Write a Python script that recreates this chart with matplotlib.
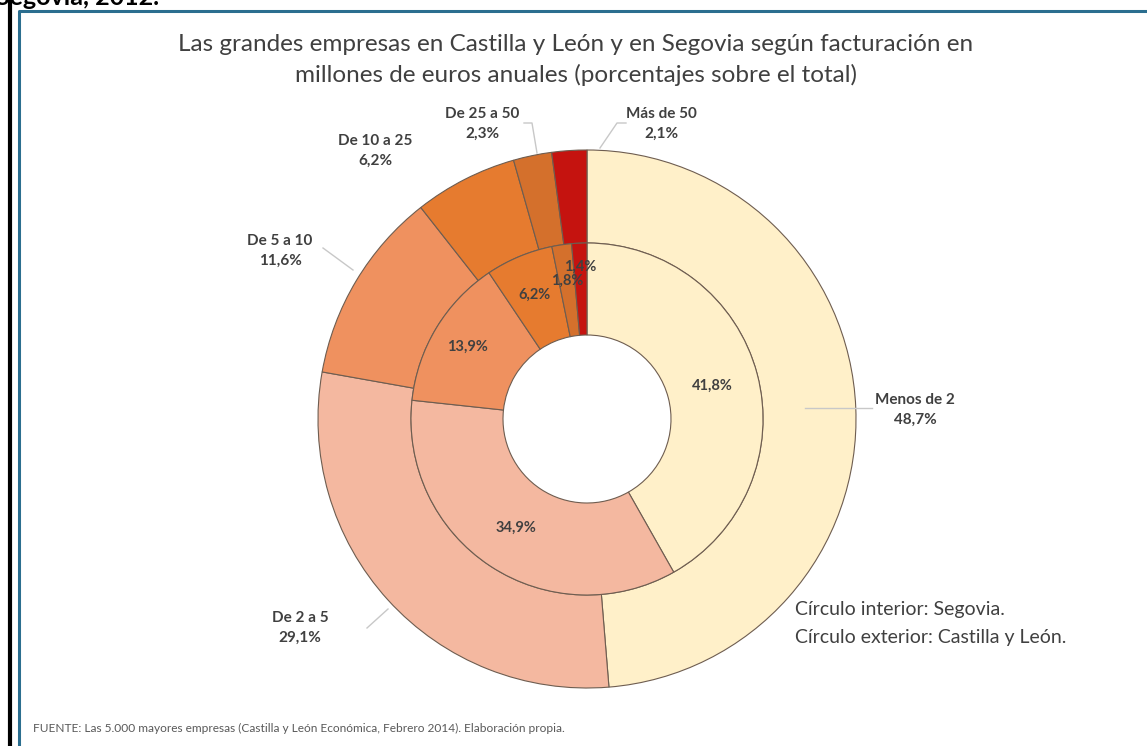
import matplotlib
matplotlib.use('Agg')
import matplotlib.pyplot as plt
import numpy as np

categories = ['Menos de 2', 'De 2 a 5', 'De 5 a 10', 'De 10 a 25', 'De 25 a 50', 'Más de 50']
castilla_leon = [48.7, 29.1, 11.6, 6.2, 2.3, 2.1]
segovia = [41.8, 34.9, 13.9, 6.2, 1.8, 1.4]
colors = ['#FFF0C9', '#F4B8A0', '#EF915F', '#E67B2F', '#D4702C', '#C5130F']

title = ('Las grandes empresas en Castilla y León y en Segovia según facturación en\n'
         'millones de euros anuales (porcentajes sobre el total)')
note_lines = ['Círculo interior: Segovia.', 'Círculo exterior: Castilla y León.']
source = 'FUENTE: Las 5.000 mayores empresas (Castilla y León Económica, Febrero 2014). Elaboración propia.'

W, H = 1147, 746
plt.rcParams['font.family'] = ['Lato', 'DejaVu Sans']
fig = plt.figure(figsize=(W / 100, H / 100), dpi=100)
ax = fig.add_axes([0, 0, 1, 1])


def Y(y):
    return H - y


def fmt(v):
    return f"{v:.1f}".replace('.', ',') + '%'


cx, cy = 587, Y(419)
R_out, R_mid, R_in = 269, 176, 84
edge = dict(edgecolor='#6e5d50', linewidth=0.8)

wo, _ = ax.pie(castilla_leon, radius=R_out, center=(cx, cy), startangle=90,
               counterclock=False, colors=colors,
               wedgeprops=dict(width=R_out - R_mid, **edge), frame=True)
wi, _ = ax.pie(segovia, radius=R_mid, center=(cx, cy), startangle=90,
               counterclock=False, colors=colors,
               wedgeprops=dict(width=R_mid - R_in, **edge), frame=True)

ax.set_xlim(0, W)
ax.set_ylim(0, H)
ax.axis('off')

txtc = '#404040'
# inner labels
r_lab = [130, 130, 140, 135, 140, 152]
for w, v, r in zip(wi, segovia, r_lab):
    ang = np.deg2rad((w.theta1 + w.theta2) / 2)
    ax.text(cx + r * np.cos(ang), cy + r * np.sin(ang), fmt(v), ha='center', va='center',
            fontsize=10.5, fontweight='bold', color=txtc)

# outer labels (layout positions)
out_pos = [(915, 410), (300, 628), (280, 251), (375, 151), (482, 124), (661, 124)]
for (x, y), c, v in zip(out_pos, categories, castilla_leon):
    ax.text(x, Y(y), c + '\n' + fmt(v), ha='center', va='center', fontsize=11,
            fontweight='bold', color=txtc, linespacing=1.55)

lc = '#c8c8c8'
leaders = [
    [(805, 408), (872, 408)],
    [(367, 628), (388, 609)],
    [(323, 248), (353, 270)],
    [(524, 123), (532, 123), (537, 153)],
    [(626, 123), (617, 123), (600, 148)],
]
for pts in leaders:
    xs = [p[0] for p in pts]
    ys = [Y(p[1]) for p in pts]
    ax.plot(xs, ys, color=lc, lw=1)

ax.text(576, Y(60), title, ha='center', va='center', fontsize=17.5, color=txtc,
        linespacing=1.45)

for i, line in enumerate(note_lines):
    ax.text(795, Y(610 + 27 * i), line, ha='left', va='center', fontsize=14, color=txtc)

ax.text(33, Y(728), source, ha='left', va='center', fontsize=8.6, color='#595959')

# frame lines
ax.plot([10, 10], [0, H], color='black', lw=3, solid_capstyle='butt')
ax.plot([19, 19, W + 5], [-5, Y(10.5), Y(10.5)], color='#2B6E8F', lw=2.2)
ax.text(-4, Y(5), 'Segovia, 2012.', ha='left', va='baseline', fontsize=18,
        fontweight='bold', color='black')

fig.savefig('out.png', dpi=100)
